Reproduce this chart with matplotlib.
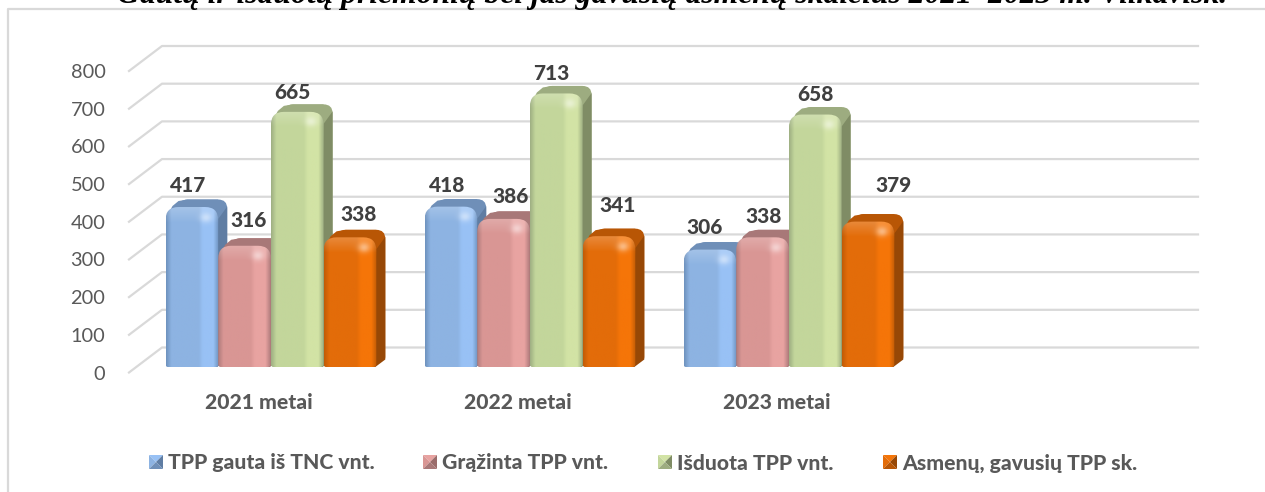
import numpy as np
import matplotlib
matplotlib.use("Agg")
import matplotlib.pyplot as plt
from matplotlib.patches import PathPatch, Polygon
from matplotlib.path import Path

# data
metai = ["2021 metai", "2022 metai", "2023 metai"]
serijos = ["TPP gauta iš TNC vnt.", "Grąžinta TPP vnt.", "Išduota TPP vnt.", "Asmenų, gavusių TPP sk."]
gauta = [417, 418, 306]
grazinta = [316, 386, 338]
isduota = [665, 713, 658]
asmenu = [338, 341, 379]
y_ticks = [0, 100, 200, 300, 400, 500, 600, 700, 800]
antraste = "Gautų ir išduotų priemonių bei jas gavusių asmenų skaičius 2021–2023 m. Vilkavišk."

# colours: left edge, main, light, top face, side face
spalvos = [
    ("#6f93bf", "#8db3e2", "#98c1f5", "#6f8fb8", "#5f7da3"),
    ("#b07c7c", "#d99694", "#e8a3a1", "#a87878", "#9a6c6b"),
    ("#9fb083", "#c3d69b", "#d2e3a5", "#9dac80", "#7f8c65"),
    ("#c25c06", "#e36c09", "#f57508", "#b85605", "#974806"),
]

# pixel geometry
W, H = 1265, 492
FX0, FX1 = 129, 1165     # front plane of the axes
FY0, FY800 = 372.5, 71
CAT_PX = 259.0
PX_X = 1 / CAT_PX
PX_Y = 800 / (FY0 - FY800)
BAR_W = 52.7 * PX_X
BAR_START = (165.5 - FX0) * PX_X
BAR_LIFT = 5.5 * PX_Y
BAR_SCALE = 1.018
DEPTH_X, DEPTH_Y = 9 * PX_X, 7.5 * PX_Y
BACK_X, BACK_Y = 33 * PX_X, 25 * PX_Y
GRID = "#d9d9d9"
FONT = "Lato"
BOLD = 900

fig = plt.figure(figsize=(W / 100, H / 100), dpi=100, facecolor="white")

# overlay in pixels for frame, title and legend
bg = fig.add_axes([0, 0, 1, 1])
bg.set_xlim(0, W)
bg.set_ylim(H, 0)
bg.axis("off")
bg.text(117, 3.5, antraste, family="Liberation Serif", weight="bold", style="italic",
        fontsize=22.8, color="black", va="baseline", ha="left")
bg.plot([W, 7.5, 7.5], [8.5, 8.5, H], color=GRID, lw=1.6)

ax = fig.add_axes([FX0 / W, 1 - FY0 / H, (FX1 - FX0) / W, (FY0 - FY800) / H])
ax.patch.set_alpha(0)
ax.set_xlim(0, 4)
ax.set_ylim(0, 800)
for s in ax.spines.values():
    s.set_visible(False)
ax.set_xticks([0.5, 1.5, 2.5])
ax.set_xticklabels(metai, fontsize=15.2, weight=BOLD, color="#595959", family=FONT)
ax.tick_params(axis="x", length=0, pad=15)
ax.set_yticks(y_ticks)
ax.set_yticklabels(y_ticks, fontsize=14.4, color="#595959", family=FONT)
ax.tick_params(axis="y", length=0, pad=17)

for v in y_ticks:
    ax.plot([0, BACK_X, 4 + BACK_X], [v, v + BACK_Y, v + BACK_Y], color=GRID, lw=1.6,
            clip_on=False, zorder=1)


def rounded_bar(x0, x1, y0, y1, r_top=13, r_bot=2.5):
    rx, ry = r_top * PX_X, r_top * PX_Y
    bx, by = r_bot * PX_X, r_bot * PX_Y
    verts = [(x0 + bx, y0), (x1 - bx, y0), (x1, y0), (x1, y0 + by), (x1, y1 - ry), (x1, y1),
             (x1 - rx, y1), (x0 + rx, y1), (x0, y1), (x0, y1 - ry), (x0, y0 + by), (x0, y0),
             (x0 + bx, y0), (x0 + bx, y0)]
    codes = [Path.MOVETO, Path.LINETO, Path.CURVE3, Path.CURVE3, Path.LINETO, Path.CURVE3,
             Path.CURVE3, Path.LINETO, Path.CURVE3, Path.CURVE3, Path.LINETO, Path.CURVE3,
             Path.CURVE3, Path.CLOSEPOLY]
    return Path(verts, codes)


def shade_image(c_edge, c_main, c_light, height_px):
    to_rgb = matplotlib.colors.to_rgb
    stops = [0, 0.10, 0.62, 0.70, 0.90, 1.0]
    cols = np.array([to_rgb(c_edge), to_rgb(c_main), to_rgb(c_main),
                     to_rgb(c_light), to_rgb(c_light), to_rgb(c_edge)])
    t = np.linspace(0, 1, 80)
    row = np.stack([np.interp(t, stops, cols[:, k]) for k in range(3)], axis=1)
    n = max(int(height_px), 2)
    img = np.repeat(row[None, :, :], n, axis=0)
    # brighter bevel along the top edge, soft spot near the top right
    band = min(16, n)
    fade = np.linspace(1, 0, band)[:, None, None]
    img[:band] = img[:band] + (1 - img[:band]) * 0.2 * fade
    yy, xx = np.mgrid[0:n, 0:80]
    spot = np.exp(-(((xx - 60) / 9.0) ** 2 + ((yy - 10) / 5.0) ** 2))[:, :, None]
    img = img + (1 - img) * 0.45 * spot
    return np.clip(img, 0, 1)


def draw_bar(x0, val, cols, z):
    c_edge, c_main, c_light, c_top, c_side = cols
    x1 = x0 + BAR_W
    y0 = BAR_LIFT
    y1 = y0 + val * BAR_SCALE
    ry = 12 * PX_Y
    # top and side faces, behind the front
    back = rounded_bar(x0 + 13 * PX_X, x1 + DEPTH_X, y0 + DEPTH_Y, y1 + DEPTH_Y, r_top=9)
    ax.add_patch(PathPatch(back, fc=c_top, ec="none", zorder=z, clip_on=False))
    ax.add_patch(Polygon([(x0 + 1 * PX_X, y1 - 10 * PX_Y), (x0 + 7 * PX_X, y1 + 1 * PX_Y),
                          (x0 + 13 * PX_X, y1 + 6 * PX_Y), (x0 + 22 * PX_X, y1 + DEPTH_Y),
                          (x1 + DEPTH_X - 9 * PX_X, y1 + DEPTH_Y), (x1, y1 - 4 * PX_Y)],
                         fc=c_top, ec="none", zorder=z, clip_on=False))
    ax.add_patch(Polygon([(x1 - 4 * PX_X, y0), (x1 - 1 * PX_X, y0), (x1 + DEPTH_X, y0 + DEPTH_Y),
                          (x1 + DEPTH_X, y1 + DEPTH_Y - 7 * PX_Y), (x1, y1 - ry)],
                         fc=c_side, ec="none", zorder=z, clip_on=False))
    # front face with gradient
    h_px = (y1 - y0) / PX_Y
    im = ax.imshow(shade_image(c_edge, c_main, c_light, h_px), extent=(x0, x1, y0, y1),
                   aspect="auto", origin="upper", zorder=z + 0.1, interpolation="bilinear")
    front = PathPatch(rounded_bar(x0, x1, y0, y1), fc="none", ec="none", transform=ax.transData)
    ax.add_patch(front)
    im.set_clip_path(front)


# label offsets in pixels from the top middle of each bar, as placed in the original
nudges = [[(-4, 22), (4, 25), (-5, 19), (9, 23)],
          [(-4, 21), (7, 22), (-5, 20), (9, 31)],
          [(-5, 22), (1, 21), (0, 20), (26, 36)]]
vals = [gauta, grazinta, isduota, asmenu]
for g in range(len(metai)):
    for s in range(len(serijos)):
        x0 = g + BAR_START + s * BAR_W
        draw_bar(x0, vals[s][g], spalvos[s], 3 + s + g * 10)
        top = BAR_LIFT + vals[s][g] * BAR_SCALE
        dx, dy = nudges[g][s]
        ax.annotate(str(vals[s][g]), (x0 + BAR_W / 2, top), xytext=(dx * 0.72, dy * 0.72),
                    textcoords="offset points", ha="center", va="center", fontsize=15,
                    weight=BOLD, color="#404040", family=FONT, zorder=60, annotation_clip=False)

ax.set_xlim(0, 4)
ax.set_ylim(0, 800)

# legend
leg_x = [149, 423, 658, 883]
for xs, name, cols in zip(leg_x, serijos, spalvos):
    y0, y1, x1 = 455, 469, xs + 14
    xm, ym = xs + 7, 462
    bg.add_patch(Polygon([(xs, y0), (x1, y0), (xm, ym)], fc=cols[2], ec="none"))
    bg.add_patch(Polygon([(xs, y0), (xs, y1), (xm, ym)], fc=cols[1], ec="none"))
    bg.add_patch(Polygon([(x1, y0), (x1, y1), (xm, ym)], fc=cols[4], ec="none"))
    bg.add_patch(Polygon([(xs, y1), (x1, y1), (xm, ym)], fc=cols[3], ec="none"))
    bg.text(x1 + 5, 463, name, fontsize=15.2, weight=BOLD, color="#595959", family=FONT,
            va="center", ha="left")

fig.savefig("out.png", dpi=100)
